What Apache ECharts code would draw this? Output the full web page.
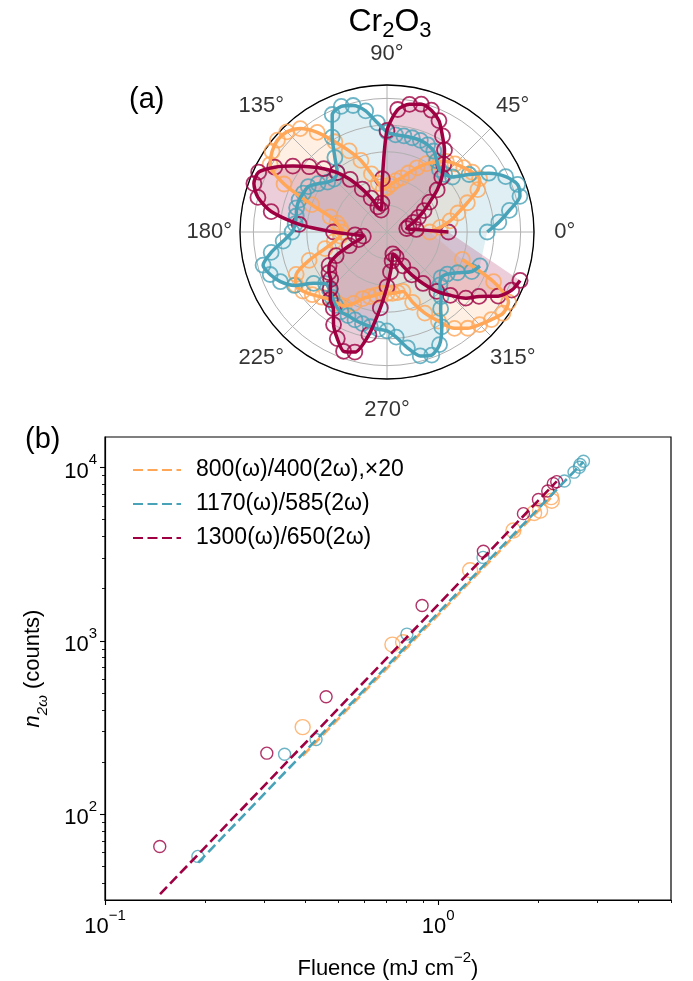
<!DOCTYPE html>
<html><head><meta charset="utf-8">
<script src="https://cdn.jsdelivr.net/npm/echarts@6/dist/echarts.min.js"></script>
<style>html,body{margin:0;padding:0;background:#fff}#c{width:693px;height:981px}</style>
</head><body><div id="c"></div>
<script>
// ---------- (a) polar data ----------
const THETA = [0,5,10,15,20,25,30,35,40,45,50,55,60,65,70,75,80,85,90,95,100,105,110,115,120,125,130,135,140,145,150,155,160,165,170,175,180,185,190,195,200,205,210,215,220,225,230,235,240,245,250,255,260,265,270,275,280,285,290,295,300,305,310,315,320,325,330,335,340];
const R_800 = [0.32,0.40,0.48,0.55,0.64,0.75,0.80,0.78,0.75,0.72,0.69,0.64,0.59,0.53,0.47,0.42,0.39,0.36,0.33,0.32,0.37,0.45,0.57,0.67,0.78,0.91,1.01,1.06,1.07,1.05,1.01,0.85,0.60,0.44,0.38,0.35,0.34,0.35,0.40,0.48,0.62,0.75,0.79,0.77,0.73,0.69,0.66,0.65,0.64,0.59,0.53,0.50,0.48,0.46,0.46,0.46,0.46,0.46,0.56,0.67,0.77,0.88,0.94,0.98,1.02,1.06,1.05,0.88,0.60];
const R_1170 = [0.75,0.84,0.93,1.03,1.04,0.98,0.88,0.75,0.64,0.61,0.61,0.65,0.70,0.72,0.73,0.73,0.73,0.73,0.75,0.82,0.92,0.98,1.00,0.97,0.82,0.68,0.58,0.56,0.58,0.63,0.68,0.69,0.70,0.70,0.69,0.69,0.71,0.78,0.88,0.96,0.93,0.88,0.80,0.67,0.60,0.61,0.64,0.67,0.69,0.69,0.70,0.71,0.72,0.73,0.74,0.79,0.88,0.96,0.98,0.93,0.82,0.70,0.63,0.56,0.53,0.55,0.61,0.70,0.74];
const R_1300 = [0.46,0.22,0.15,0.17,0.21,0.26,0.32,0.39,0.49,0.58,0.66,0.75,0.83,0.92,0.97,0.99,0.97,0.92,0.76,0.40,0.22,0.17,0.20,0.28,0.37,0.48,0.58,0.67,0.76,0.86,0.97,1.06,1.06,1.00,0.88,0.66,0.40,0.24,0.18,0.22,0.30,0.42,0.50,0.53,0.55,0.60,0.66,0.70,0.80,0.88,0.95,0.93,0.78,0.57,0.41,0.30,0.22,0.17,0.20,0.28,0.37,0.47,0.58,0.67,0.77,0.84,0.96,1.03,1.06];
const ANGLE_TICKS = [0,45,90,135,180,225,270,315];

// ---------- (b) fluence data ----------
const FLU_800  = [0.392,0.729,0.785,1.247,1.682,1.941,2.023,2.193,2.183];
const N_800    = [318,952,981,2555,4335,5470,5640,6427,6745];
const FLU_1170 = [0.190,0.346,0.430,0.806,1.364,2.392,2.558,2.654,2.667,2.73];
const N_1170   = [57.1,222,270,1094,3031,8355,9402,10040,10400,10860];
const FLU_1300 = [0.146,0.306,0.461,0.895,1.367,1.803,2.0,2.133,2.217,2.270];
const N_1300   = [65.1,225,476,1600,3291,5420,6545,7328,8075,8290];
const FIT_X_800  = [0.392,2.19],  FIT_N_800  = [217,6770];
const FIT_X_1170 = [0.1905,2.73], FIT_N_1170 = [52.6,10800];
const FIT_X_1300 = [0.1463,2.27], FIT_N_1300 = [34.6,8330];
const LABELS = ['800(ω)/400(2ω),×20','1170(ω)/585(2ω)','1300(ω)/650(2ω)'];
const X_MAJOR = [0.1,1];
const X_MINOR = [0.2,0.3,0.4,0.5,0.6,0.7,0.8,0.9,2,3,4,5];
const Y_MAJOR = [100,1000,10000];
const Y_MINOR = [40,50,60,70,80,90,200,300,400,500,600,700,800,900,2000,3000,4000,5000,6000,7000,8000,9000];

const COLORS = ['#ffa657','#48a3b8','#9e0042'];
const FONT = 'Liberation Sans, Arial, Helvetica, sans-serif';

const pairs = (r) => r.map((v,i)=>[v, THETA[i]]);
const xy = (x,y) => x.map((v,i)=>[v,y[i]]);
const hex2rgba = (h,a)=>{const n=parseInt(h.slice(1),16);return `rgba(${n>>16},${(n>>8)&255},${n&255},${a})`;};

const RS = [R_800, R_1170, R_1300];
const series = [];
RS.forEach((r,k)=>{
  const d = pairs(r); d.push(d[0]);
  series.push({type:'line', coordinateSystem:'polar', name:'fill'+k, data:d, symbol:'none', silent:true,
    lineStyle:{width:0, opacity:0}, areaStyle:{color:hex2rgba(COLORS[k], k===2?0.28:0.24)}, z:1, animation:false});
});
RS.forEach((r,k)=>{
  series.push({type:'scatter', coordinateSystem:'polar', name:'pts'+k, data:pairs(r), symbol:'circle', symbolSize:15, clip:false,
    itemStyle:{color:'rgba(0,0,0,0)', borderColor:COLORS[k], borderWidth:1.8}, z:3, animation:false});
  series.push({type:'line', coordinateSystem:'polar', name:'fit'+k, data:pairs(r), symbol:'none', smooth:0.25,
    lineStyle:{color:COLORS[k], width:3.5}, z:4, animation:false});
});
series.push({type:'scatter', coordinateSystem:'polar', name:'anglelabels', data:ANGLE_TICKS.map(a=>[1.33,a]),
  symbolSize:0, clip:false, silent:true, z:5, animation:false,
  label:{show:true, position:'inside', formatter:p=>p.value[1]+'°', fontSize:22, color:'#000', fontFamily:FONT}});

const FX=[FLU_800,FLU_1170,FLU_1300], FN=[N_800,N_1170,N_1300];
const FITX=[FIT_X_800,FIT_X_1170,FIT_X_1300], FITN=[FIT_N_800,FIT_N_1170,FIT_N_1300];
const SIZES=[15,12,12];
[0,1,2].forEach(k=>{
  series.push({type:'scatter', xAxisIndex:0, yAxisIndex:0, name:'data'+k, data:xy(FX[k],FN[k]), symbol:'circle', symbolSize:SIZES[k],
    itemStyle:{color:'rgba(0,0,0,0)', borderColor:COLORS[k], borderWidth:1.4}, z:3, animation:false});
});
[0,1,2].forEach(k=>{
  series.push({type:'line', xAxisIndex:0, yAxisIndex:0, name:LABELS[k], data:xy(FITX[k],FITN[k]), symbol:'none',
    lineStyle:{color:COLORS[k], width:2.6, type:[10,4.5]}, itemStyle:{color:COLORS[k]}, z:4, animation:false});
});

const supRich = {
  b:{fontSize:22, lineHeight:30, verticalAlign:'bottom', fontFamily:FONT, color:'#000'},
  s:{fontSize:15, lineHeight:14, verticalAlign:'top', fontFamily:FONT, color:'#000'}
};
const powFmt = v => { const e = Math.round(Math.log10(v)); return '{b|10}{s|' + (e<0 ? '−'+(-e) : e) + '}'; };

const option = {
  animation:false,
  backgroundColor:'#fff',
  title:[
    {text:'{a|Cr}{s|2}{a|O}{s|3}', left:385, top:1, textAlign:'center', textStyle:{fontWeight:'normal', rich:{
      a:{fontSize:32, lineHeight:36, verticalAlign:'top', fontWeight:'normal', fontFamily:FONT, color:'#000'},
      s:{fontSize:22, lineHeight:20, verticalAlign:'bottom', fontWeight:'normal', fontFamily:FONT, color:'#000'}}}},
    {text:'(a)', left:124, top:80, textStyle:{fontSize:29, fontWeight:'normal', fontFamily:FONT, color:'#000'}},
    {text:'(b)', left:20, top:420, textStyle:{fontSize:29, fontWeight:'normal', fontFamily:FONT, color:'#000'}}
  ],
  polar:{center:[387,232], radius:147},
  angleAxis:{type:'value', min:0, max:360, interval:45, startAngle:0, clockwise:false, z:2,
    axisLine:{show:true, lineStyle:{color:'#000', width:1.3}}, axisTick:{show:false}, axisLabel:{show:false},
    splitLine:{show:true, lineStyle:{color:'#b0b0b0', width:1}}},
  radiusAxis:{type:'value', min:0, max:1.1, interval:0.2, z:2,
    axisLine:{show:false}, axisTick:{show:false}, axisLabel:{show:false},
    splitLine:{show:true, lineStyle:{color:'#b0b0b0', width:1}}},
  grid:{left:105, top:437, width:566, height:469, show:true, borderColor:'#000', borderWidth:1.2, backgroundColor:'rgba(0,0,0,0)'},
  xAxis:[
    {type:'log', logBase:10, min:0.1, max:5, position:'bottom',
      axisLine:{show:true, lineStyle:{color:'#000', width:1.2}},
      axisTick:{show:true, customValues:X_MAJOR, length:5, lineStyle:{color:'#000', width:1.1}},
      axisLabel:{show:true, customValues:X_MAJOR, formatter:powFmt, margin:8, rich:supRich},
      splitLine:{show:false}, minorTick:{show:false},
      name:'{t|Fluence (mJ cm}{s|−2}{t|)}', nameLocation:'middle', nameGap:50,
      nameTextStyle:{rich:{t:{fontSize:22, lineHeight:30, verticalAlign:'bottom', fontFamily:FONT, color:'#000'},
                           s:{fontSize:15, lineHeight:14, verticalAlign:'top', fontFamily:FONT, color:'#000'}}}},
    {type:'log', logBase:10, min:0.1, max:5, position:'bottom',
      axisLine:{show:false}, axisTick:{show:true, customValues:X_MINOR, length:3, lineStyle:{color:'#000', width:0.9}},
      axisLabel:{show:false}, splitLine:{show:false}}
  ],
  yAxis:[
    {type:'log', logBase:10, min:32, max:15000, position:'left',
      axisLine:{show:true, lineStyle:{color:'#000', width:1.2}},
      axisTick:{show:true, customValues:Y_MAJOR, length:5, lineStyle:{color:'#000', width:1.1}},
      axisLabel:{show:true, customValues:Y_MAJOR, formatter:powFmt, margin:8, rich:supRich},
      splitLine:{show:false},
      name:'{i|n}{sub|2ω}{t| (counts)}', nameLocation:'middle', nameGap:55,
      nameTextStyle:{rich:{i:{fontSize:22, fontStyle:'italic', lineHeight:28, verticalAlign:'top', fontFamily:FONT, color:'#000'},
                           sub:{fontSize:15, fontStyle:'italic', lineHeight:14, verticalAlign:'bottom', fontFamily:FONT, color:'#000'},
                           t:{fontSize:22, lineHeight:28, verticalAlign:'top', fontFamily:FONT, color:'#000'}}}},
    {type:'log', logBase:10, min:32, max:15000, position:'left',
      axisLine:{show:false}, axisTick:{show:true, customValues:Y_MINOR, length:3, lineStyle:{color:'#000', width:0.9}},
      axisLabel:{show:false}, splitLine:{show:false}}
  ],
  legend:{data:LABELS, orient:'vertical', left:127, top:453, itemWidth:48, itemHeight:14, itemGap:10,
    itemStyle:{opacity:0},
    textStyle:{fontSize:23, fontFamily:FONT, color:'#000', lineHeight:24, padding:[0,0,0,10]}},
  series:series
};
const chart = echarts.init(document.getElementById('c'), null, {renderer:'canvas'});
chart.setOption(option);
</script></body></html>
